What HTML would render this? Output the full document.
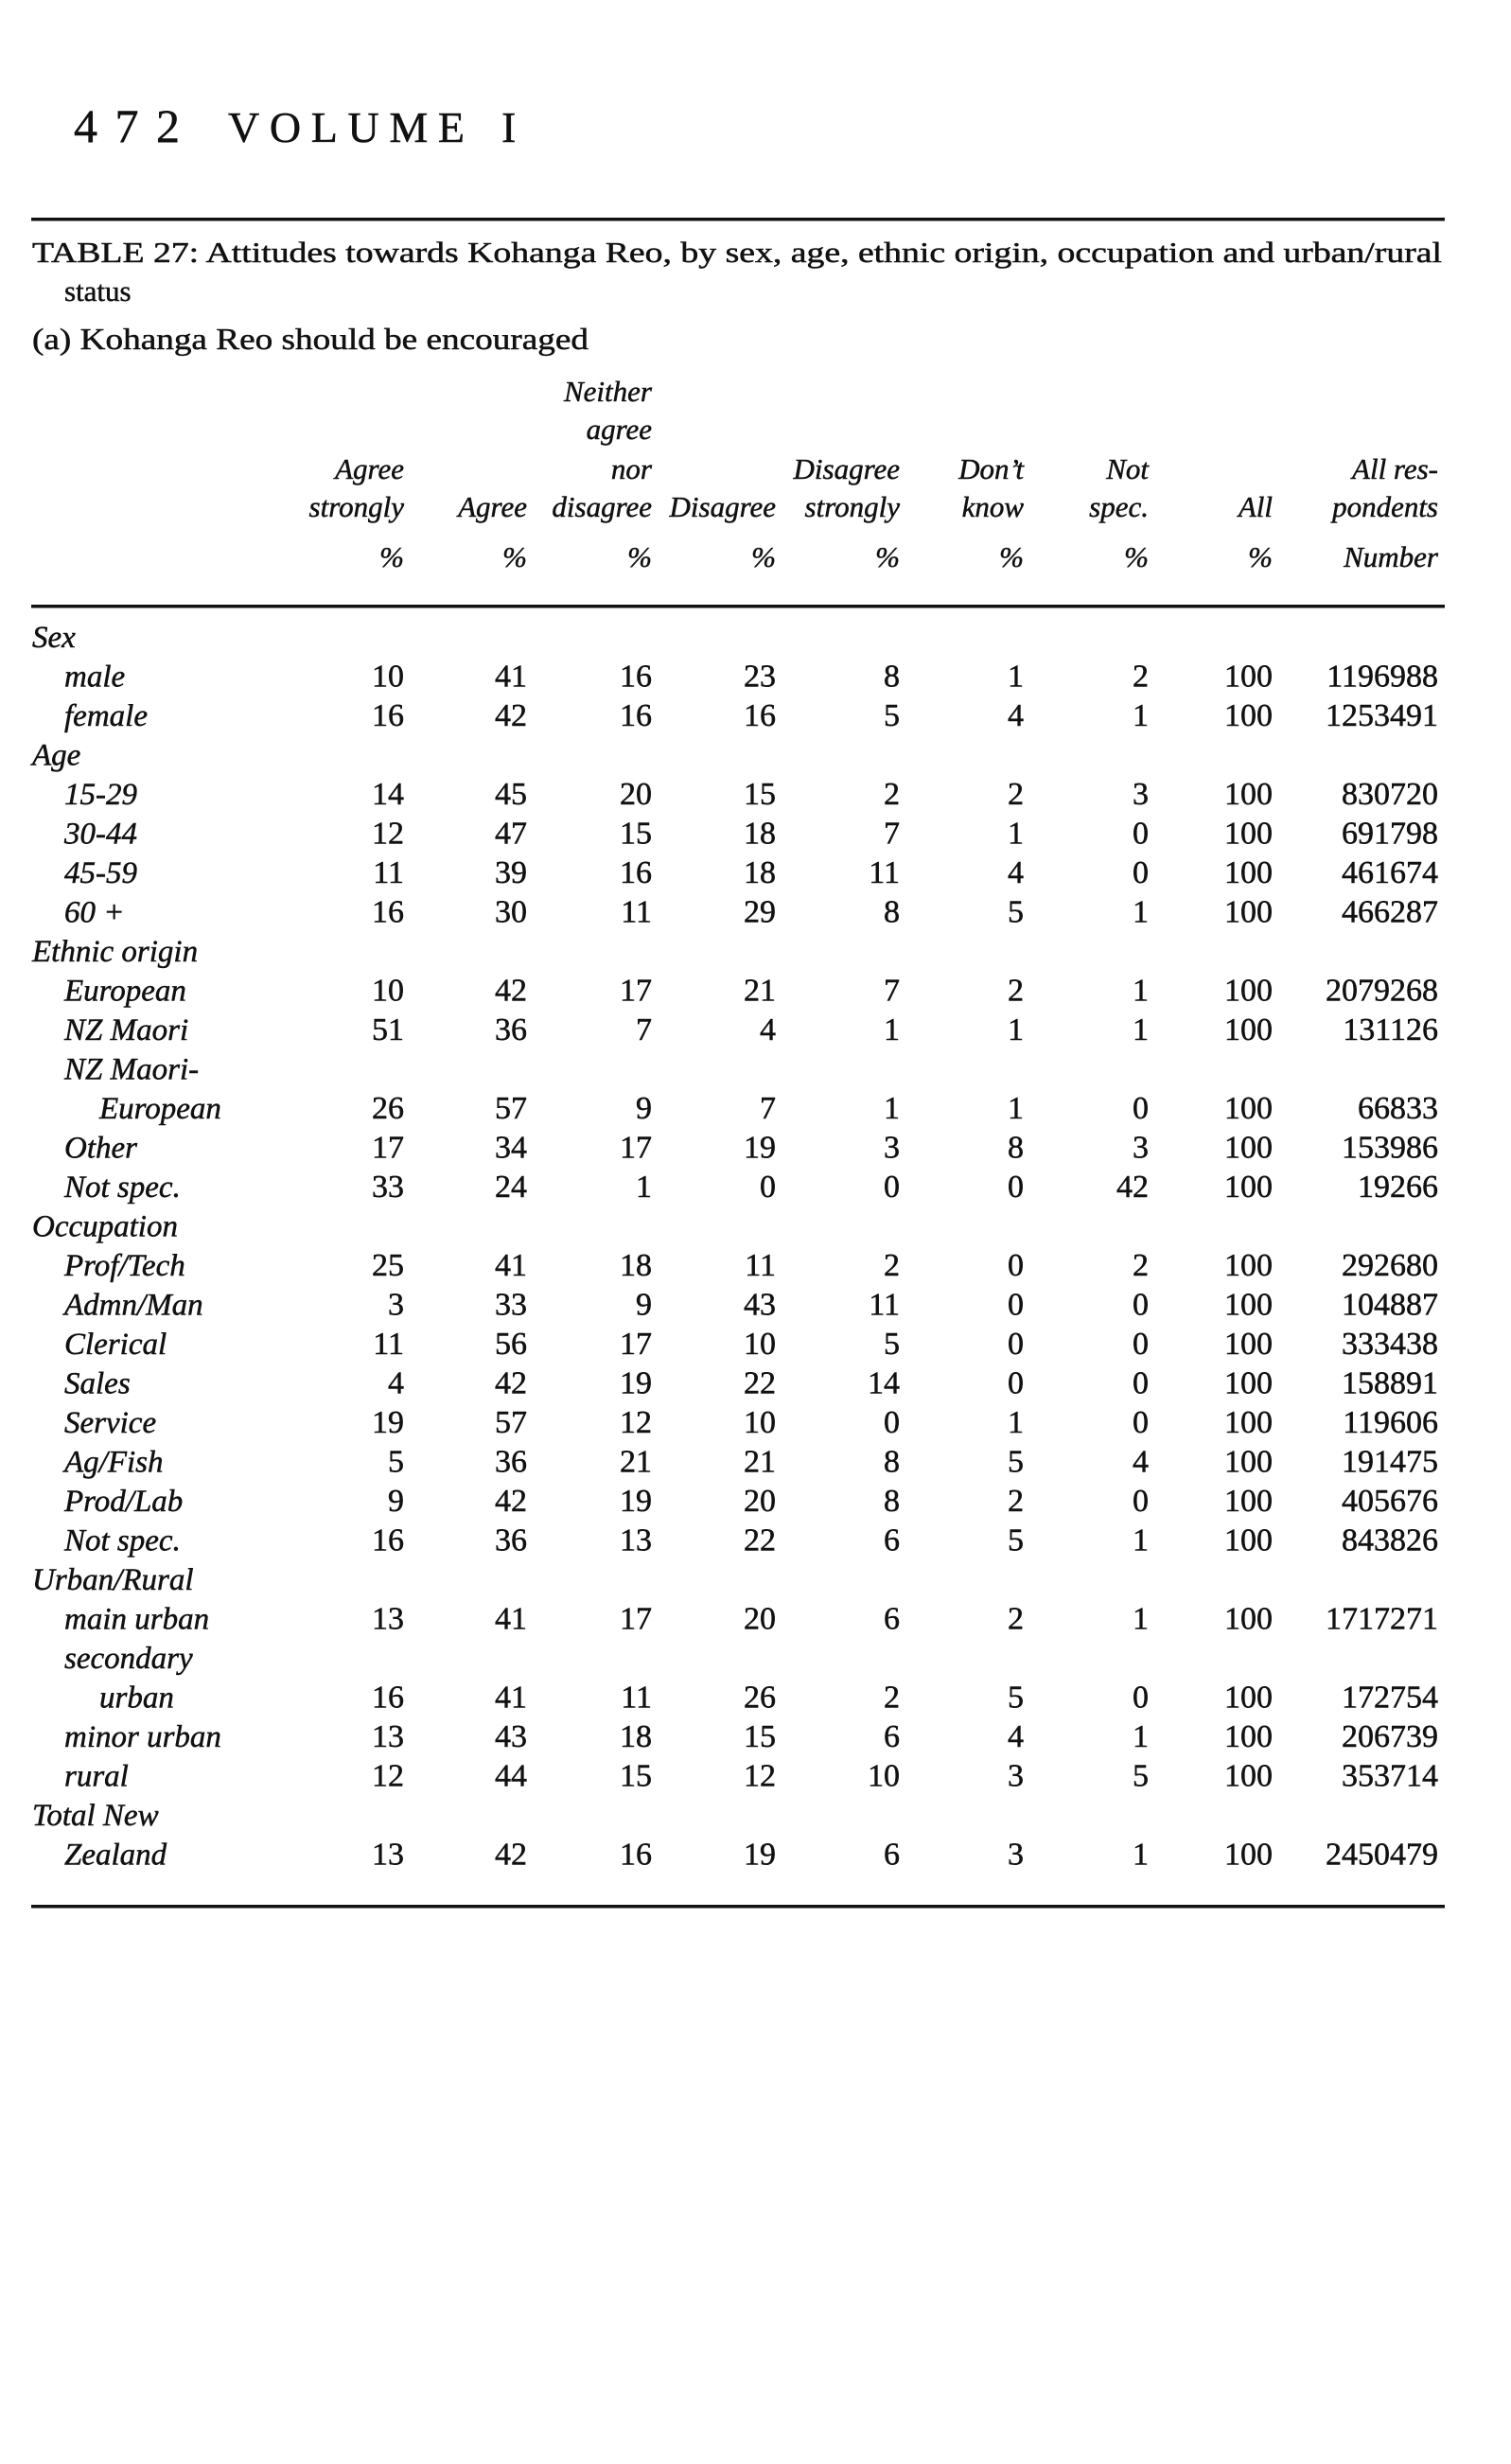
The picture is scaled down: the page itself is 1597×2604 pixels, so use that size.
<!DOCTYPE html>
<html><head><meta charset="utf-8"><style>
html,body{margin:0;padding:0;background:#fff;}
svg{display:block;}
text{font-family:"Liberation Serif",serif;fill:#111;stroke:#111;stroke-width:0.5;}
.h{font-style:italic;font-size:31px;text-anchor:end;}
.d{font-size:34px;text-anchor:end;}
.l{font-style:italic;font-size:33px;}
</style></head><body>
<svg width="1597" height="2604" viewBox="0 0 1597 2604" xmlns="http://www.w3.org/2000/svg">
<text x="78" y="150" font-size="50" textLength="112" lengthAdjust="spacing">472</text>
<text x="241" y="150" font-size="46" textLength="250" lengthAdjust="spacing">VOLUME</text>
<text x="530" y="150" font-size="46">I</text>
<rect x="33" y="230" width="1494" height="3.5" fill="#111"/>
<text x="34" y="277" font-size="31" textLength="1490" lengthAdjust="spacingAndGlyphs">TABLE 27: Attitudes towards Kohanga Reo, by sex, age, ethnic origin, occupation and urban/rural</text>
<text x="68" y="318" font-size="31">status</text>
<text x="34" y="369" font-size="32" textLength="588" lengthAdjust="spacingAndGlyphs">(a) Kohanga Reo should be encouraged</text>

<text class="h" x="689" y="424">Neither</text>
<text class="h" x="689" y="464">agree</text>
<text class="h" x="689" y="506">nor</text>
<text class="h" x="689" y="546">disagree</text>
<text class="h" x="427" y="506">Agree</text>
<text class="h" x="427" y="546">strongly</text>
<text class="h" x="557" y="546">Agree</text>
<text class="h" x="820" y="546">Disagree</text>
<text class="h" x="951" y="506">Disagree</text>
<text class="h" x="951" y="546">strongly</text>
<text class="h" x="1082" y="506">Don’t</text>
<text class="h" x="1082" y="546">know</text>
<text class="h" x="1214" y="506">Not</text>
<text class="h" x="1214" y="546">spec.</text>
<text class="h" x="1345" y="546">All</text>
<text class="h" x="1520" y="506">All res-</text>
<text class="h" x="1520" y="546">pondents</text>
<text class="h" x="427" y="599">%</text><text class="h" x="557" y="599">%</text><text class="h" x="689" y="599">%</text><text class="h" x="820" y="599">%</text><text class="h" x="951" y="599">%</text><text class="h" x="1082" y="599">%</text><text class="h" x="1214" y="599">%</text><text class="h" x="1345" y="599">%</text><text class="h" x="1520" y="599">Number</text>
<rect x="33" y="639" width="1494" height="3.5" fill="#111"/>

<g id="rows"></g>
<rect x="33" y="2013" width="1494" height="3.5" fill="#111"/>
<script>
var rows=[
["Sex",34],
["male",68,[10,41,16,23,8,1,2,100,1196988]],
["female",68,[16,42,16,16,5,4,1,100,1253491]],
["Age",34],
["15-29",68,[14,45,20,15,2,2,3,100,830720]],
["30-44",68,[12,47,15,18,7,1,0,100,691798]],
["45-59",68,[11,39,16,18,11,4,0,100,461674]],
["60 +",68,[16,30,11,29,8,5,1,100,466287]],
["Ethnic origin",34],
["European",68,[10,42,17,21,7,2,1,100,2079268]],
["NZ Maori",68,[51,36,7,4,1,1,1,100,131126]],
["NZ Maori-",68],
["European",105,[26,57,9,7,1,1,0,100,66833]],
["Other",68,[17,34,17,19,3,8,3,100,153986]],
["Not spec.",68,[33,24,1,0,0,0,42,100,19266]],
["Occupation",34],
["Prof/Tech",68,[25,41,18,11,2,0,2,100,292680]],
["Admn/Man",68,[3,33,9,43,11,0,0,100,104887]],
["Clerical",68,[11,56,17,10,5,0,0,100,333438]],
["Sales",68,[4,42,19,22,14,0,0,100,158891]],
["Service",68,[19,57,12,10,0,1,0,100,119606]],
["Ag/Fish",68,[5,36,21,21,8,5,4,100,191475]],
["Prod/Lab",68,[9,42,19,20,8,2,0,100,405676]],
["Not spec.",68,[16,36,13,22,6,5,1,100,843826]],
["Urban/Rural",34],
["main urban",68,[13,41,17,20,6,2,1,100,1717271]],
["secondary",68],
["urban",105,[16,41,11,26,2,5,0,100,172754]],
["minor urban",68,[13,43,18,15,6,4,1,100,206739]],
["rural",68,[12,44,15,12,10,3,5,100,353714]],
["Total New",34],
["Zealand",68,[13,42,16,19,6,3,1,100,2450479]]
];
var cx=[427,557,689,820,951,1082,1214,1345,1520];
var g=document.getElementById("rows"),ns="http://www.w3.org/2000/svg";
rows.forEach(function(r,i){
 var y=684+41.5*i;
 var t=document.createElementNS(ns,"text");t.setAttribute("class","l");t.setAttribute("x",r[1]);t.setAttribute("y",y);t.textContent=r[0];g.appendChild(t);
 if(r[2])r[2].forEach(function(v,j){var d=document.createElementNS(ns,"text");d.setAttribute("class","d");d.setAttribute("x",cx[j]);d.setAttribute("y",y);d.textContent=v;g.appendChild(d);});
});
</script>
</svg>
</body></html>
